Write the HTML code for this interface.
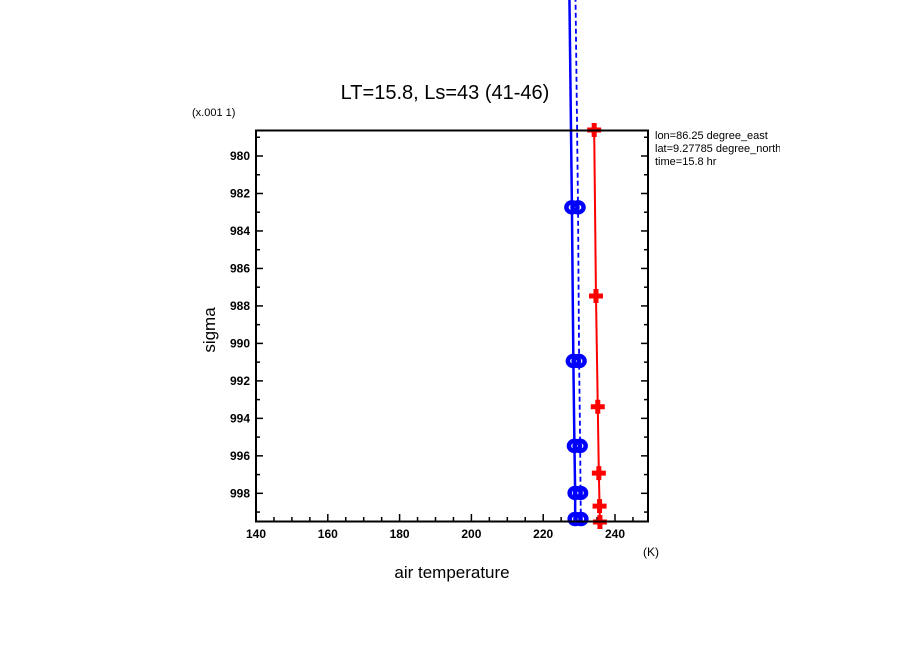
<!DOCTYPE html>
<html><head><meta charset="utf-8"><style>
html,body{margin:0;padding:0;background:#fff;}
svg{display:block;font-family:"Liberation Sans",sans-serif;}
</style></head><body>
<svg id="chart" width="904" height="654" viewBox="0 0 904 654" xmlns="http://www.w3.org/2000/svg">
<text x="445" y="99" font-size="20" text-anchor="middle">LT=15.8, Ls=43 (41-46)</text>
<text x="192" y="116" font-size="11">(x.001 1)</text>
<text transform="translate(215,330) rotate(-90)" font-size="17" text-anchor="middle">sigma</text>
<text x="452" y="578" font-size="17" text-anchor="middle">air temperature</text>
<text x="643" y="556" font-size="12">(K)</text>
<svg x="654" y="126" width="126" height="50" overflow="hidden">
<text x="1" y="13" font-size="11">lon=86.25 degree_east</text>
<text x="1" y="26" font-size="11">lat=9.27785 degree_north</text>
<text x="1" y="39" font-size="11">time=15.8 hr</text>
</svg>
<g id="axes"></g>
<g id="series"></g>
<rect x="256" y="130.5" width="392" height="391" fill="none" stroke="#000" stroke-width="2"/>
</svg>
<script>
const xTicks = [140,160,180,200,220,240];
const yTicks = [980,982,984,986,988,990,992,994,996,998];
const blueSigma = [971.5, 982.74, 990.94, 995.47, 997.98, 999.37];
const blueSolidTemp = [227.3, 228.0, 228.4, 228.7, 228.9, 228.9];
const blueDashTemp = [229.0, 229.7, 230.0, 230.3, 230.4, 230.5];
const redSigma = [978.61, 987.47, 993.38, 996.92, 998.68, 999.53];
const redTemp = [234.2, 234.7, 235.2, 235.5, 235.7, 235.8];

const NS='http://www.w3.org/2000/svg';
function X(t){return 256 + (t-140)*3.59;}
function Y(s){return 156 + (s-980)*18.74;}
function mk(tag,attrs,parent){const e=document.createElementNS(NS,tag);for(const k in attrs)e.setAttribute(k,attrs[k]);parent.appendChild(e);return e;}
const axes=document.getElementById('axes');
const series=document.getElementById('series');
for(let t=140;t<=248;t+=5){
  const major = t%20===0;
  const tk=mk('line',{x1:X(t),x2:X(t),y1:521,y2:major?514:517,stroke:'#000','stroke-width':1.5},axes);
  
  
}
xTicks.forEach(t=>{
  const l=mk('text',{x:X(t),y:538,'font-size':12,'text-anchor':'middle','font-weight':'bold'},axes);
  l.textContent=t;
  
  
});
for(let s=979;s<=999;s+=1){
  const major = s%2===0;
  const a=mk('line',{x1:256,x2:major?263:260,y1:Y(s),y2:Y(s),stroke:'#000','stroke-width':1.5},axes);
  
  
  const b=mk('line',{x1:648,x2:major?641:644,y1:Y(s),y2:Y(s),stroke:'#000','stroke-width':1.5},axes);
  
  
}
yTicks.forEach(s=>{
  const l=mk('text',{x:250,y:Y(s)+4,'font-size':12,'text-anchor':'end','font-weight':'bold'},axes);
  l.textContent=s;
  
  
});
function pts(ts,ss){return ts.map((t,i)=>X(t)+','+Y(ss[i])).join(' ');}
const solid=mk('polyline',{points:pts(blueSolidTemp,blueSigma),fill:'none',stroke:'#0000ff','stroke-width':2.5},series);


const dash=mk('polyline',{points:pts(blueDashTemp,blueSigma),fill:'none',stroke:'#0000ff','stroke-width':1.8,'stroke-dasharray':'5,3'},series);


const red=mk('polyline',{points:pts(redTemp,redSigma),fill:'none',stroke:'#ff0000','stroke-width':2},series);


blueSigma.forEach((s,i)=>{
  if(s<978.6) return;
  [blueSolidTemp[i],blueDashTemp[i]].forEach(t=>{
    const c=mk('ellipse',{cx:X(t),cy:Y(s),rx:5.5,ry:5,fill:'none',stroke:'#0000ff','stroke-width':4.5},series);
    
    
  });
});
redSigma.forEach((s,i)=>{
  const x=X(redTemp[i]),y=Y(s);
  const p=mk('path',{d:`M${x-7},${y}H${x+7}M${x},${y-7}V${y+7}`,stroke:'#ff0000','stroke-width':5},series);
  
  
});
</script>
</body></html>
